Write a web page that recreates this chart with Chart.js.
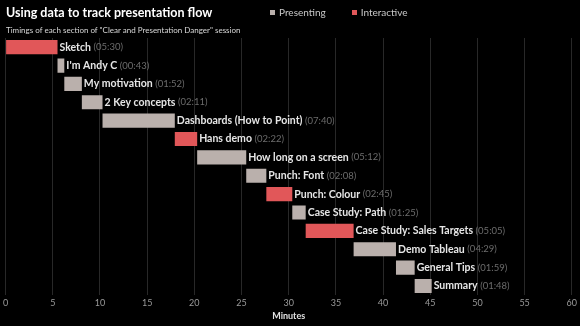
<!DOCTYPE html>
<html lang="en">
<head>
    <meta charset="utf-8" />
    <title>Presentation flow</title>
    <script src="https://cdn.jsdelivr.net/npm/chart.js"></script>
    <style>
        html, body { margin: 0; padding: 0; background: #000; }
        #wrap { position: relative; width: 580px; height: 326px; background: #000; font-family: Lato, sans-serif; }
        #title { position: absolute; left: 6px; top: 5px; color: #fff; font-weight: bold; font-size: 12.5px; }
        #subtitle { position: absolute; left: 6px; top: 25px; color: #d8d8d8; font-size: 8px; }
        #legend { position: absolute; left: 270px; top: 6px; display: flex; font-size: 10px; color: #c8c8c8; }
        #legend span.item { display: flex; align-items: center; margin-right: 26px; }
        #legend span.box { width: 5px; height: 5px; margin-right: 4px; display: inline-block; }
        canvas { position: absolute; left: 0; top: 0; }
    </style>
</head>
<body>
    <div id="wrap">
        <canvas id="flow"></canvas>
        <div id="title">Using data to track presentation flow</div>
        <div id="subtitle">Timings of each section of "Clear and Presentation Danger" session</div>
        <div id="legend"></div>
    </div>

    <script>
        // sections of the talk, top to bottom
        const sections = ['Sketch', "I'm Andy C", 'My motivation', '2 Key concepts', 'Dashboards (How to Point)',
            'Hans demo', 'How long on a screen', 'Punch: Font', 'Punch: Colour', 'Case Study: Path',
            'Case Study: Sales Targets', 'Demo Tableau', 'General Tips', 'Summary'];
        const durations = ['05:30', '00:43', '01:52', '02:11', '07:40', '02:22', '05:12', '02:08', '02:45',
            '01:25', '05:05', '04:29', '01:59', '01:48'];
        // start / end in minutes
        const startMin = [0, 5.5, 6.22, 8.08, 10.27, 17.93, 20.3, 25.5, 27.63, 30.38, 31.8, 36.88, 41.37, 43.35];
        const endMin = [5.5, 6.22, 8.08, 10.27, 17.93, 20.3, 25.5, 27.63, 30.38, 31.8, 36.88, 41.37, 43.35, 45.15];
        const kinds = ['Interactive', 'Presenting', 'Presenting', 'Presenting', 'Presenting', 'Interactive',
            'Presenting', 'Presenting', 'Interactive', 'Presenting', 'Interactive', 'Presenting', 'Presenting', 'Presenting'];
        const kindNames = ['Presenting', 'Interactive'];
        const kindColours = ['#bab0ac', '#e15759'];

        const datasets = kindNames.map((k, j) => ({
            label: k,
            backgroundColor: kindColours[j],
            data: sections.map((s, i) => kinds[i] === k ? [startMin[i], endMin[i]] : null),
            skipNull: true,
            barPercentage: 0.77,
            categoryPercentage: 1
        }));

        // legend in the header
        const legend = document.getElementById('legend');
        kindNames.forEach((k, j) => {
            const item = document.createElement('span');
            item.className = 'item';
            item.innerHTML = '<span class="box" style="background:' + kindColours[j] + '"></span>' + k;
            legend.appendChild(item);
        });

        // name + duration next to each bar
        const barLabels = {
            id: 'barLabels',
            afterDatasetsDraw(chart) {
                const ctx = chart.ctx;
                ctx.save();
                ctx.textBaseline = 'middle';
                chart.data.datasets.forEach((ds, d) => {
                    chart.getDatasetMeta(d).data.forEach((el, i) => {
                        if (ds.data[i] == null) return;
                        const x = Math.max(el.x, el.base) + 2;
                        ctx.font = 'bold 10.5px Lato';
                        ctx.fillStyle = '#e6e6e6';
                        const name = sections[i] + ' ';
                        ctx.fillText(name, x, el.y);
                        const w = ctx.measureText(name).width;
                        ctx.font = '9.5px Lato';
                        ctx.fillStyle = '#6c6c6c';
                        ctx.fillText('(' + durations[i] + ')', x + w, el.y);
                    });
                });
                ctx.restore();
            }
        };

        new Chart(document.getElementById('flow'), {
            type: 'bar',
            data: { labels: sections, datasets: datasets },
            plugins: [barLabels],
            options: {
                indexAxis: 'y',
                responsive: true,
                maintainAspectRatio: false,
                animation: false,
                layout: { padding: { top: 38, left: 1.5, right: 6, bottom: 5 } },
                plugins: {
                    legend: { display: false },
                    tooltip: { enabled: false }
                },
                scales: {
                    y: { display: false },
                    x: {
                        min: 0,
                        max: 60,
                        ticks: { stepSize: 5, color: '#9a9a9a', font: { family: 'Lato', size: 9, lineHeight: 1 }, padding: 3 },
                        grid: { color: '#282828', drawTicks: false },
                        border: { display: false },
                        title: { display: true, text: 'Minutes', color: '#e0e0e0', font: { family: 'Lato', size: 9, weight: 'bold' }, padding: { top: 0, bottom: 0 } }
                    }
                }
            }
        });
    </script>
</body>
</html>
